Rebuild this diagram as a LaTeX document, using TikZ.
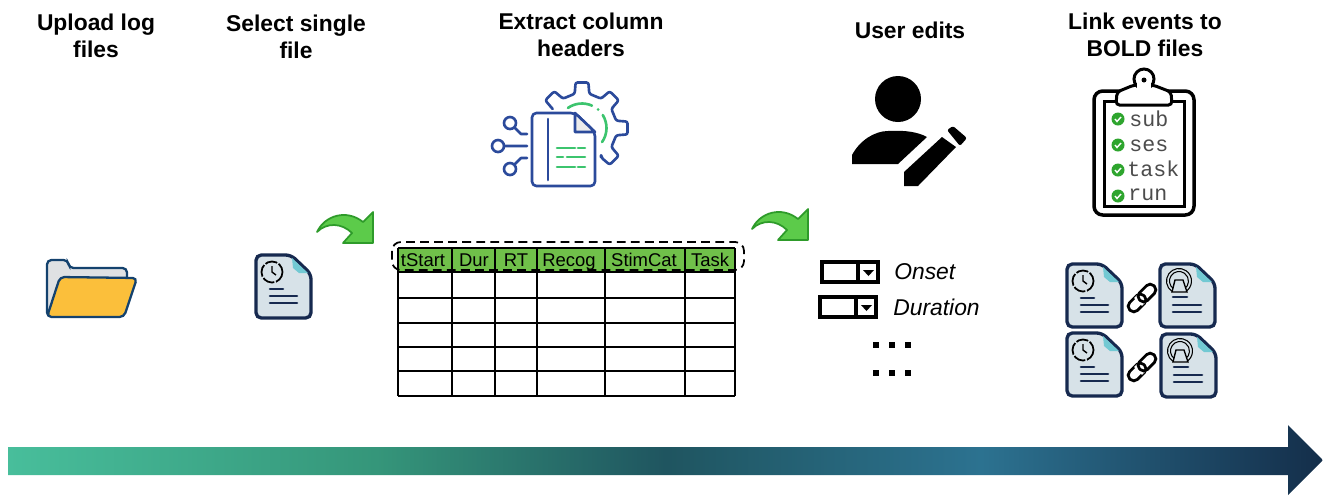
\documentclass[tikz,border=0pt]{standalone}
\usepackage{fontspec}
\setmainfont{Liberation Sans}
\newfontfamily\clipfont{Liberation Mono}
\usetikzlibrary{calc}

\definecolor{docline}{HTML}{16294F}
\definecolor{docfill}{HTML}{D7E2E8}
\definecolor{docfold}{HTML}{72C9D3}
\definecolor{gearblue}{HTML}{2B4A9B}
\definecolor{geargreen}{HTML}{3CC46E}
\definecolor{headgreen}{HTML}{70C04A}
\definecolor{checkgreen}{HTML}{2EA52E}
\definecolor{arrowfill}{HTML}{5CCB4A}
\definecolor{arrowline}{HTML}{2E9B2A}
\definecolor{folderline}{HTML}{14426E}
\definecolor{folderback}{HTML}{DFE1E3}
\definecolor{folderfront}{HTML}{FBBF3B}
\pgfdeclarehorizontalshading{timeline_shade}{100bp}{
    rgb(0bp)=(0.282,0.745,0.608);
    rgb(25bp)=(0.282,0.745,0.608);
    rgb(39bp)=(0.208,0.588,0.478);
    rgb(50bp)=(0.122,0.333,0.376);
    rgb(62bp)=(0.173,0.447,0.565);
    rgb(75bp)=(0.078,0.180,0.290);
    rgb(100bp)=(0.078,0.180,0.290)}

\tikzset{
    % sheet with a folded corner, 55 wide and 63 high
    doc_sheet/.pic={
        \draw [docline, line width=1.9pt, fill=docfill, rounded corners=3pt]
            (0,0) -- (35,0) -- (55,19) -- (55,63) -- (0,63) -- cycle;
        \fill [docfold] (36,3) -- (52,18) -- (43,18) -- (37,13) -- cycle;
    },
    log_doc/.pic={
        \pic {doc_sheet};
        \draw [black, line width=1pt, dash pattern=on 7pt off 1pt] (16,17) circle (10.5);
        \draw [black, line width=.8pt] (16,11) -- (16,17) -- (20,20);
        \draw [docline, line width=1.5pt, line cap=round] (14,34) -- (27,34) (14,41) -- (41,41) (14,48) -- (41,48);
    },
    scan_doc/.pic={
        \pic {doc_sheet};
        \draw [black, line width=.6pt] (19,17) ++(125:12.5) arc (125:415:12.5);
        \draw [black, line width=.6pt] (19,17) ++(125:9.5) arc (125:415:9.5);
        \draw [black, line width=.8pt, fill=docfill] (15,16) -- (23,16) -- (27,28) -- (12,28) -- cycle;
        \draw [docline, line width=1.5pt, line cap=round] (13,33) -- (27,33) (13,41) -- (41,41) (13,48) -- (41,48);
    },
    curl_arrow/.pic={
        \draw [arrowline, line width=1pt, fill=arrowfill, line join=round]
            (0,20) .. controls (8,3) and (30,-3) .. (46,10) -- (56,0) -- (56,31) -- (26,31)
            -- (35,21) .. controls (25,11) and (10,10) .. cycle;
    },
    chain_link/.pic={
        \draw [black, line width=1.6pt, rounded corners=2.8pt, rotate=45]
            (-17,-5.5) rectangle (3,5.5);
        \draw [white, line width=3pt, rotate=45] (-3,-5.5) -- (-3,5.5);
        \draw [black, line width=1.6pt, rounded corners=2.8pt, rotate=45]
            (-3,-5.5) rectangle (17,5.5);
    },
    drop_box/.pic={
        \draw [black, line width=1.9pt] (0,0) rectangle (56,20) (36,0) -- (36,20);
        \fill [black] (41,8) -- (52,8) -- (46.5,14) -- cycle;
    },
    check_mark/.pic={
        \fill [checkgreen] (0,0) circle (6.5);
        \draw [white, line width=.8pt] (-3,0) -- (-1,2.5) -- (3,-2);
    },
    title_style/.style={font=\fontsize{13}{15}\selectfont\bfseries, align=center, inner sep=0},
    head_style/.style={font=\fontsize{10.5}{12}\selectfont, inner sep=0, anchor=base},
    field_style/.style={font=\fontsize{13}{15}\selectfont\itshape, anchor=west, inner sep=0},
    clip_style/.style={font=\fontsize{12.3}{14}\clipfont, text=black!70, anchor=base west, inner sep=0},
    dot_style/.style={fill=black, minimum size=3pt, inner sep=0},
    gear_line/.style={draw=gearblue, line width=1.5pt, line cap=round, line join=round},
    gear_green/.style={draw=geargreen, line width=1.5pt, line cap=round}
}

\begin{document}
\begin{tikzpicture}[x=0.02cm, y=-0.02cm]
    \useasboundingbox (0,0) rectangle (1323,495);

    % titles
    \node [title_style] (t_upload) at (96,36) {Upload log\\files};
    \node [title_style] (t_select) at (296,37) {Select single\\file};
    \node [title_style] (t_extract) at (581,35) {Extract column\\headers};
    \node [title_style] (t_user) at (910,30) {User edits};
    \node [title_style] (t_link) at (1145,35) {Link events to\\BOLD files};

    % folder
    \draw [fill=folderback, draw=folderline, line width=1.3pt, rounded corners=2.5pt]
        (47,317) -- (47,260) -- (68,260) -- (69,268) -- (127,268) -- (127,290) -- cycle;
    \draw [fill=folderfront, draw=folderline, line width=1.3pt, rounded corners=2.5pt]
        (60,277) -- (137,278) -- (124,317) -- (47,317) -- cycle;

    \pic at (256,255) {log_doc};
    \pic at (317,212) {curl_arrow};
    \pic at (752,209) {curl_arrow};

    % extract icon
    \begin{scope}[shift={(582,128)}]
        \draw [gear_line, rounded corners=1.2pt] (57:35)
            \foreach \tooth in {45,0,-45,-90,-135}{
                -- (\tooth+12:35) -- (\tooth+8:46) -- (\tooth-8:46) -- (\tooth-12:35)
            };
        \draw [gear_green] (-125:24.5) arc (-125:-66:24.5);
        \draw [gear_green] (-32:24.5) arc (-32:35:24.5);
        \fill [geargreen] (-49:24.5) circle (1.5);
    \end{scope}
    \draw [gear_line, fill=white, rounded corners=2.5pt]
        (532,113) -- (575,113) -- (595,132) -- (595,186) -- (532,186) -- cycle;
    \draw [gear_line, fill=black!8] (575,113) -- (575,132) -- (595,132) -- cycle;
    \draw [gear_line] (548,119) -- (548,180);
    \foreach \rowy/\ax/\bx/\cx/\dx in {148/557/575/578/585, 157/557/563/567/585, 167/557/575/578/585}
        \draw [gear_green] (\ax,\rowy) -- (\bx,\rowy) (\cx,\rowy) -- (\dx,\rowy);
    \draw [gear_line] (510,123) circle (6) (498,146) circle (6) (510,169) circle (6);
    \draw [gear_line] (515,128) -- (521,134) -- (527,134) (504,146) -- (527,146)
        (515,164) -- (521,158) -- (527,158);

    % table
    \fill [headgreen] (398,248) rectangle (735,272);
    \foreach \rowy in {248,272,298,323,347,371,396}
        \draw [black, line width=1pt] (398,\rowy) -- (735,\rowy);
    \foreach \colx in {398,452,495,537,605,685,735}
        \draw [black, line width=1pt] (\colx,248) -- (\colx,396);
    \node [head_style] (h_start) at (423,266) {tStart};
    \node [head_style] (h_dur) at (474,266) {Dur};
    \node [head_style] (h_rt) at (516,266) {RT};
    \node [head_style] (h_recog) at (569,266) {Recog};
    \node [head_style] (h_stim) at (644,266) {StimCat};
    \node [head_style] (h_task) at (710,266) {Task};
    \draw [black, line width=1pt, dash pattern=on 5pt off 3pt, rounded corners=5pt] (392,242) rectangle (744,270);

    % person with pencil
    \fill [black] (898,99) circle (23);
    \fill [black] (852,164) -- (852,155) .. controls (860,140) and (875,131) .. (888,131)
        .. controls (905,130) and (918,132) .. (927,137) -- (898,164) -- cycle;
    \fill [black] (904,172) -- (904,186) -- (918,186) -- (956,147) -- (942,137) -- cycle;
    \fill [black, rounded corners=1.2pt] (947,130) -- (953,126) -- (967,138) -- (960,146) -- cycle;

    % clipboard
    \draw [black, line width=2pt, rounded corners=5pt] (1094,91) rectangle (1194,215);
    \draw [black, line width=1.7pt] (1104,101) rectangle (1184,206);
    \draw [black, line width=1.7pt, fill=white, rounded corners=2pt]
        (1116,105) -- (1117,92) -- (1134,85) -- (1153,85) -- (1171,92) -- (1172,105) -- cycle;
    \draw [black, line width=1.7pt, fill=white] (1144,79) circle (10);
    \fill [white] (1137,83) rectangle (1151,92);
    \fill [black] (1144,80) circle (2.5);
    \foreach \rowname/\rowy/\baseliney/\rowtext/\startx in {a/119/126/sub/1129, b/145/151/ses/1129, c/170/176/task/1127, d/196/200/run/1128}{
        \pic at (1118,\rowy) {check_mark};
        \node [clip_style] (k_\rowname) at (\startx,\baseliney) {\rowtext};
    }

    % field drop-downs
    \pic at (822,262) {drop_box};
    \pic at (820,297) {drop_box};
    \node [field_style] (f_onset) at (894,272) {Onset};
    \node [field_style] (f_duration) at (893,307) {Duration};
    \foreach \rowy in {345,373}
        \foreach \colx in {876,892,908}
            \node [dot_style] (d_\colx_\rowy) at (\colx,\rowy) {};

    % linked files
    \pic at (1067,264) {log_doc};
    \pic at (1160,264) {scan_doc};
    \pic at (1067,333) {log_doc};
    \pic at (1161,334) {scan_doc};
    \pic at (1142,298) {chain_link};
    \pic at (1142,367) {chain_link};

    % timeline arrow
    \path [shading=timeline_shade] (8,447) -- (1288,447) -- (1288,425) -- (1323,460)
        -- (1288,495) -- (1288,475) -- (8,475) -- cycle;
\end{tikzpicture}
\end{document}
